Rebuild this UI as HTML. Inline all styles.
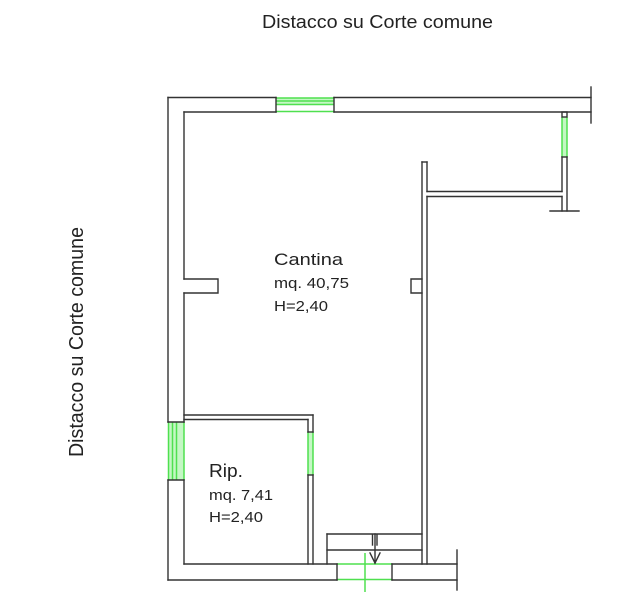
<!DOCTYPE html>
<html>
<head>
<meta charset="utf-8">
<style>
html,body{margin:0;padding:0;background:#fff;}
svg{display:block;}
text{font-family:"Liberation Sans",Arial,sans-serif;fill:#222;}
</style>
</head>
<body>
<svg width="631" height="598" viewBox="0 0 631 598" xmlns="http://www.w3.org/2000/svg">
<rect width="631" height="598" fill="#fff"/>

<!-- Titles -->
<text x="262" y="28" font-size="18" textLength="231" lengthAdjust="spacingAndGlyphs">Distacco su Corte comune</text>
<text transform="translate(83,457) rotate(-90)" x="0" y="0" font-size="20" textLength="230" lengthAdjust="spacingAndGlyphs">Distacco su Corte comune</text>

<!-- Room labels -->
<text x="274" y="265" font-size="17" textLength="69" lengthAdjust="spacingAndGlyphs">Cantina</text>
<text x="274" y="288" font-size="14.5" textLength="75" lengthAdjust="spacingAndGlyphs">mq. 40,75</text>
<text x="274" y="311" font-size="15" textLength="54" lengthAdjust="spacingAndGlyphs">H=2,40</text>

<text x="209" y="477" font-size="18.5" textLength="34" lengthAdjust="spacingAndGlyphs">Rip.</text>
<text x="209" y="500" font-size="15" textLength="64" lengthAdjust="spacingAndGlyphs">mq. 7,41</text>
<text x="209" y="522" font-size="15" textLength="54" lengthAdjust="spacingAndGlyphs">H=2,40</text>

<!-- Green windows -->
<g fill="#c4f7c4" stroke="none">
  <rect x="276" y="98" width="58" height="7"/>
  <rect x="562" y="117" width="5" height="40"/>
  <rect x="168" y="422" width="16" height="58"/>
  <rect x="308" y="432" width="5" height="43"/>
</g>
<g stroke="#4fe04f" stroke-width="1.5" fill="none">
  <!-- top window -->
  <line x1="276" y1="98" x2="334" y2="98"/>
  <line x1="276" y1="101" x2="334" y2="101"/>
  <line x1="276" y1="104.5" x2="334" y2="104.5"/>
  <line x1="276" y1="111.5" x2="334" y2="111.5"/>
  <!-- right window -->
  <line x1="562" y1="117" x2="562" y2="157"/>
  <line x1="567" y1="117" x2="567" y2="157"/>
  <!-- left window -->
  <line x1="168.5" y1="422" x2="168.5" y2="480"/>
  <line x1="172.5" y1="422" x2="172.5" y2="480"/>
  <line x1="176.5" y1="422" x2="176.5" y2="480"/>
  <line x1="184" y1="422" x2="184" y2="480"/>
  <!-- Rip right window -->
  <line x1="308" y1="432" x2="308" y2="475"/>
  <line x1="313" y1="432" x2="313" y2="475"/>
  <!-- bottom window -->
  <line x1="337" y1="564" x2="392" y2="564"/>
  <line x1="337" y1="579.5" x2="392" y2="579.5"/>
  <line x1="365" y1="553" x2="365" y2="592"/>
</g>

<!-- Walls -->
<g stroke="#333" stroke-width="1.4" fill="none" stroke-linecap="square">
  <!-- top wall -->
  <line x1="168" y1="97.5" x2="276" y2="97.5"/>
  <line x1="334" y1="97.5" x2="591" y2="97.5"/>
  <line x1="184" y1="112" x2="276" y2="112"/>
  <line x1="334" y1="112" x2="591" y2="112"/>
  <line x1="276" y1="97.5" x2="276" y2="112"/>
  <line x1="334" y1="97.5" x2="334" y2="112"/>
  <line x1="591" y1="87" x2="591" y2="123"/>

  <!-- right small wall + window cap -->
  <rect x="562" y="112" width="5" height="5"/>
  <line x1="562" y1="157" x2="567" y2="157"/>
  <line x1="562" y1="157" x2="562" y2="191.5"/>
  <line x1="562" y1="196.5" x2="562" y2="211"/>
  <line x1="567" y1="157" x2="567" y2="211"/>
  <line x1="550" y1="211" x2="579" y2="211"/>

  <!-- horizontal partition -->
  <line x1="427" y1="191.5" x2="562" y2="191.5"/>
  <line x1="427" y1="196.5" x2="562" y2="196.5"/>

  <!-- vertical partition -->
  <line x1="422" y1="162" x2="427" y2="162"/>
  <line x1="422" y1="162" x2="422" y2="564"/>
  <line x1="427" y1="162" x2="427" y2="191.5"/>
  <line x1="427" y1="196.5" x2="427" y2="564"/>
  <!-- right niche -->
  <polyline points="422,279 411,279 411,293 422,293"/>

  <!-- left wall -->
  <line x1="168" y1="97.5" x2="168" y2="422"/>
  <line x1="168" y1="480" x2="168" y2="580"/>
  <line x1="184" y1="112" x2="184" y2="279"/>
  <line x1="184" y1="293" x2="184" y2="422"/>
  <line x1="184" y1="480" x2="184" y2="564"/>
  <line x1="168" y1="422" x2="184" y2="422"/>
  <line x1="168" y1="480" x2="184" y2="480"/>
  <!-- left niche -->
  <polyline points="184,279 218,279 218,293 184,293"/>

  <!-- Rip walls -->
  <line x1="184" y1="415" x2="313" y2="415"/>
  <line x1="184" y1="419.5" x2="308" y2="419.5"/>
  <line x1="313" y1="415" x2="313" y2="432"/>
  <line x1="308" y1="419.5" x2="308" y2="432"/>
  <line x1="308" y1="432" x2="313" y2="432"/>
  <line x1="308" y1="475" x2="313" y2="475"/>
  <line x1="308" y1="475" x2="308" y2="564"/>
  <line x1="313" y1="475" x2="313" y2="564"/>

  <!-- bottom wall -->
  <line x1="168" y1="580" x2="337" y2="580"/>
  <line x1="184" y1="564" x2="337" y2="564"/>
  <line x1="337" y1="564" x2="337" y2="580"/>
  <line x1="392" y1="564" x2="457" y2="564"/>
  <line x1="392" y1="580" x2="457" y2="580"/>
  <line x1="392" y1="564" x2="392" y2="580"/>
  <line x1="457" y1="550" x2="457" y2="590"/>

  <!-- stair box -->
  <line x1="327" y1="534" x2="422" y2="534"/>
  <line x1="327" y1="550" x2="422" y2="550"/>
  <line x1="327" y1="534" x2="327" y2="564"/>
  <!-- arrow -->
  <line x1="375" y1="534" x2="375" y2="563"/>
  <polyline points="370,553 375,563 380,553"/>
  <line x1="372.5" y1="535" x2="372.5" y2="545"/>
  <line x1="377" y1="535" x2="377" y2="545"/>
</g>
</svg>
</body>
</html>
